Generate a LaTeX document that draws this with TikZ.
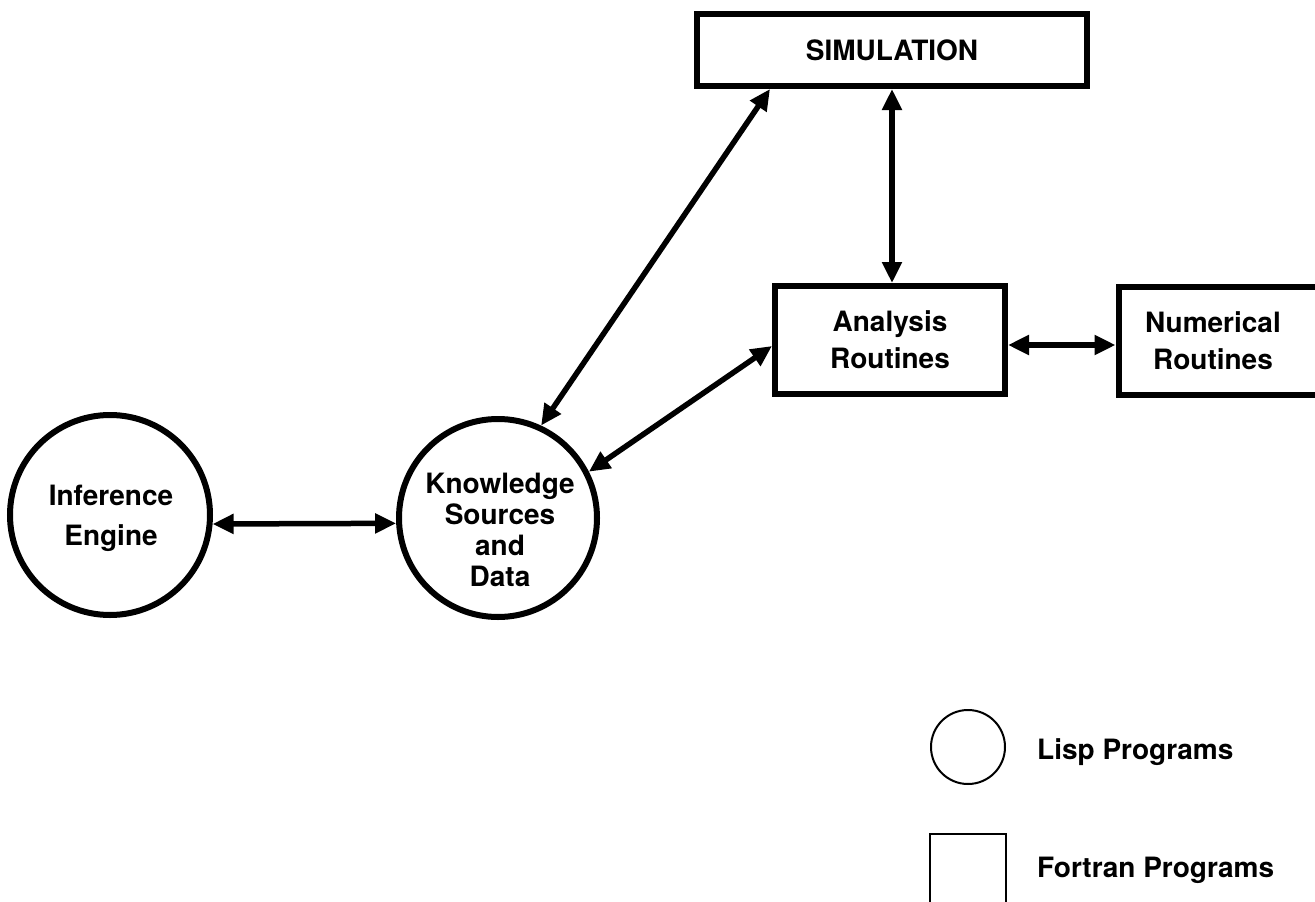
\documentclass[tikz,border=0pt]{standalone}
\usepackage{fontspec}
\setmainfont{TeX Gyre Heros}
\usetikzlibrary{arrows.meta,calc}
\begin{document}
\begin{tikzpicture}[x=1pt,y=-1pt,
  heavy/.style={line width=6pt},
  fortbox/.style={draw, heavy, rectangle, inner sep=0pt},
  lispcirc/.style={draw, heavy, circle, inner sep=0pt},
  lbl/.style={font=\fontsize{28}{31}\selectfont\bfseries, align=center, inner sep=0pt},
  link/.style={line width=5.5pt, {Triangle[length=21pt,width=19pt]}-{Triangle[length=21pt,width=19pt]}},
  keyshape/.style={draw, line width=2pt, inner sep=0pt}]
\useasboundingbox (0,0) rectangle (1315,902);

% Fortran programs (rectangles)
\node[fortbox, lbl, minimum width=390pt, minimum height=72pt] (sim) at (892,50) {SIMULATION};
\node[fortbox, lbl, minimum width=230pt, minimum height=108pt] (ana) at (890,340) {Analysis\\[6pt]Routines};
\node[fortbox, minimum width=222pt, minimum height=108pt] (num) at (1229.5,341) {};
\node[lbl] (numtxt) at (1213,341) {Numerical\\[6pt]Routines};

% Lisp programs (circles)
\node[lispcirc, minimum size=200pt] (inf) at (110,515) {};
\node[lbl] (inftxt) at (111,518) {Inference\\[9pt]Engine};
\node[lispcirc, minimum size=198pt] (ks) at (498,518) {};
\node[lbl] (kstxt) at (500,530) {Knowledge\\Sources\\and\\Data};

% Connections
\draw[link] (inf.-5) -- (ks.183.4);
\draw[link] (ks.65) -- ([xshift=-122pt]sim.south);
\draw[link] (ks.27) -- ([yshift=-6pt]ana.west);
\draw[link] (sim.south) -- (sim.south |- ana.north);
\draw[link] ([yshift=-5pt]ana.east) -- ([yshift=-5pt]ana.east -| num.west);

% Key
\node[keyshape, circle, minimum size=74pt] (lisp) at (968,747) {};
\node[lbl, anchor=base west] (lisptxt) at (1037,759) {Lisp Programs};
\node[keyshape, rectangle, minimum width=76pt, minimum height=92pt] (fort) at (968,880) {};
\node[lbl, anchor=base west] (forttxt) at (1037,877) {Fortran Programs};
\end{tikzpicture}
\end{document}
